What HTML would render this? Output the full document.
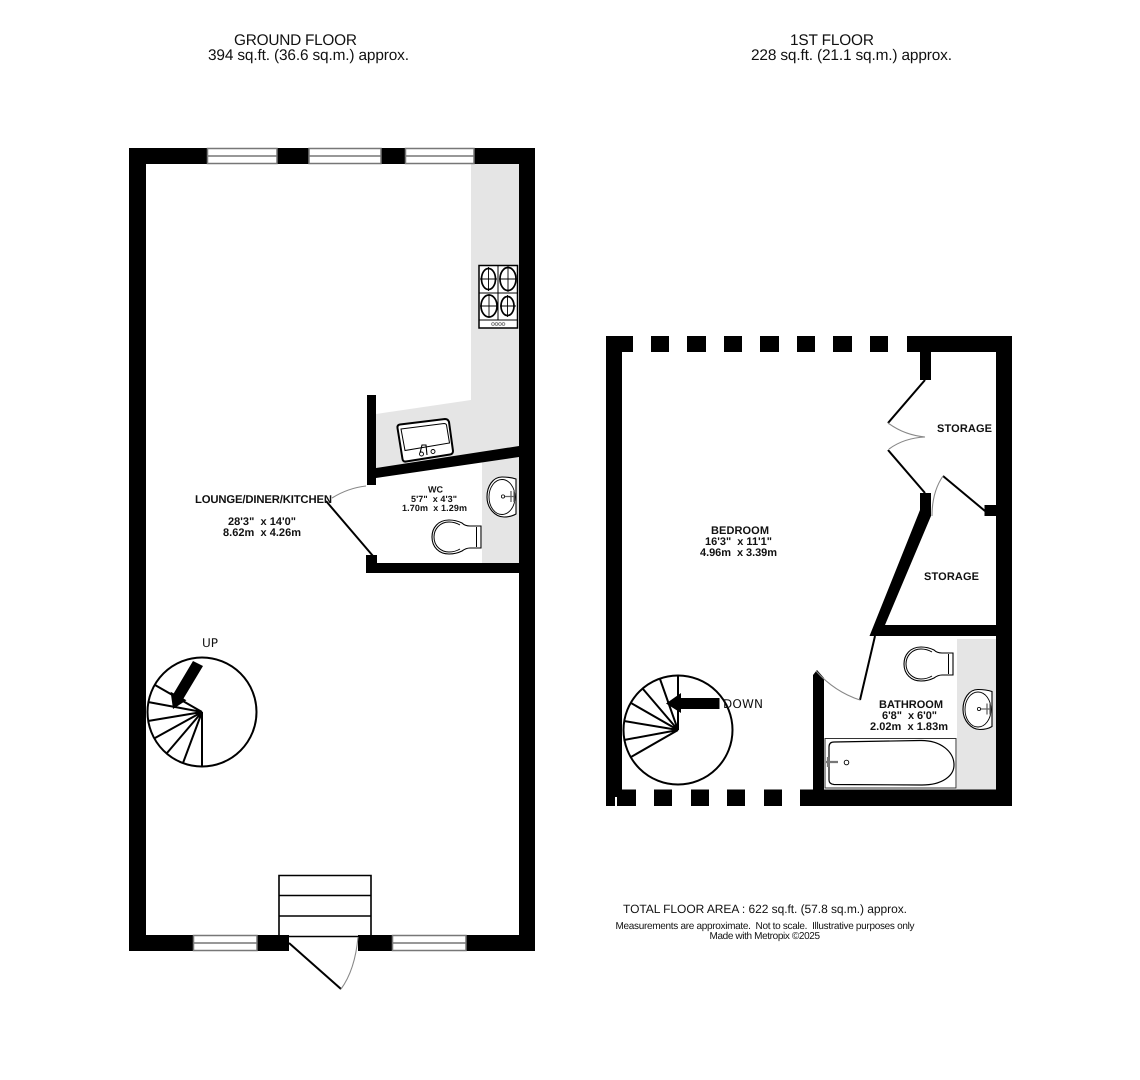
<!DOCTYPE html>
<html><head><meta charset="utf-8"><style>
html,body{margin:0;padding:0;background:#fff}
svg{display:block}
text{font-family:"Liberation Sans",sans-serif;fill:#111;white-space:pre;text-rendering:geometricPrecision}
.b{font-weight:bold}
.d{font-family:"DejaVu Sans",sans-serif;font-size:12px}
.l{fill:none;stroke:#000;stroke-width:2}
.t{fill:none;stroke:#000;stroke-width:1}
.a{fill:none;stroke:#888;stroke-width:1.100}
.w{fill:#fff;stroke:#777;stroke-width:1.500}
</style></head><body>
<svg width="1140" height="1080" viewBox="0 0 1140 1080" xmlns="http://www.w3.org/2000/svg">
<defs>
<g id="toilet">
<path d="M481 526H470Q465 526 462 523Q456 520 449 520C438 520 432 528 432 537C432 547 439 554 449 554Q456 554 462 551Q466 548 470 548H481Z" fill="#fff" stroke="#000" stroke-width="1.100"/>
<path d="M460 525Q455 522 449 522C440 522 434 529 434 537C434 546 441 552 449 552Q455 552 460 549" fill="none" stroke="#000" stroke-width="1"/>
<path d="M476.500 527V547" stroke="#000" stroke-width="1"/>
</g>
<g id="basin">
<path d="M516 479Q510 477 502 477C493 477 487 486 487 497C487 508 495 517 504 517Q511 517 516 514Z" fill="#fff" stroke="#000" stroke-width="1.100"/>
<ellipse cx="502" cy="497" rx="13" ry="17.500" fill="none" stroke="#000" stroke-width=".9"/>
<path d="M505 496.500H514M511 491V502M514 491V502" stroke="#666" stroke-width="1.300"/>
<circle cx="503" cy="496.500" r="1.600" fill="#fff" stroke="#000" stroke-width=".8"/>
</g>
</defs>
<!-- grey counters -->
<path d="M471 164H519V447L376 469V414L471 400Z" fill="#e5e5e5"/>
<path d="M482 456H519V563H482Z" fill="#e5e5e5"/>
<path d="M957 639H996V790H957Z" fill="#e5e5e5"/>

<!-- ground floor walls -->
<g fill="#000">
<rect x="129" y="148" width="17" height="803"/>
<rect x="519" y="148" width="16" height="803"/>
<rect x="129" y="148" width="78" height="16"/>
<rect x="277" y="148" width="32" height="16"/>
<rect x="381" y="148" width="24" height="16"/>
<rect x="474" y="148" width="61" height="16"/>
<rect x="129" y="935" width="64" height="16"/>
<rect x="257" y="935" width="32" height="16"/>
<rect x="358" y="935" width="34" height="16"/>
<rect x="466" y="935" width="69" height="16"/>
<rect x="367" y="395" width="9" height="90"/>
<path d="M376 468L519 446V457L376 478Z"/>
<rect x="366" y="555" width="11" height="10"/>
<rect x="366" y="563" width="153" height="10"/>
</g>
<!-- windows ground -->
<g class="w">
<rect x="207.500" y="148.500" width="69.500" height="15"/>
<rect x="309" y="148.500" width="72" height="15"/>
<rect x="405.500" y="148.500" width="68.500" height="15"/>
<rect x="193.500" y="935.500" width="63.500" height="15"/>
<rect x="392.500" y="935.500" width="73.500" height="15"/>
</g>
<g stroke="#777" stroke-width="1.600">
<path d="M207 156H277M309 156H381M405 156H474M193 943H257M392 943H466"/>
</g>

<!-- hob -->
<rect x="479" y="265.500" width="38.500" height="62.500" fill="#fff" stroke="#000" stroke-width="1.500"/>
<path class="t" d="M479 293H517M479 320H517M498 265V320"/>
<g fill="none" stroke="#000" stroke-width="1.700">
<ellipse cx="488.500" cy="279" rx="7" ry="10.500"/>
<ellipse cx="508" cy="279" rx="8" ry="11.500"/>
<ellipse cx="489" cy="306" rx="8" ry="11"/>
<ellipse cx="507.500" cy="306" rx="6.500" ry="9.500"/>
</g>
<path stroke="#000" stroke-width=".9" d="M480 279H497M488.500 267V291M499 279H517M508 266V292M480 306H498M489 294V318M500 306H516M507.500 295V317"/>
<g fill="none" stroke="#666" stroke-width=".7"><circle cx="493" cy="324" r="1.400"/><circle cx="496.500" cy="324" r="1.400"/><circle cx="500" cy="324" r="1.400"/><circle cx="503.500" cy="324" r="1.400"/></g>

<!-- sink -->
<path d="M397.500 428Q397 425 400 424.500L445 419Q448 419 449 422L453 451Q453 454 450 454.500L406 461.500Q403 462 402.500 459Z" fill="#fff" stroke="#000" stroke-width="2"/>
<path d="M401 429L444 423.500Q446 423.500 446.500 425L449.500 443L405 450.500Z" fill="none" stroke="#000" stroke-width="1"/>
<path d="M420 453L422 445H426L427 455" fill="none" stroke="#000" stroke-width="1.100"/>
<circle cx="421.500" cy="454" r="2" fill="#fff" stroke="#000" stroke-width=".9"/>
<circle cx="433" cy="451.500" r="2" fill="#fff" stroke="#000" stroke-width=".9"/>

<!-- WC fittings -->
<use href="#basin"/>
<use href="#toilet"/>

<!-- WC door -->
<path class="a" d="M332 498Q348 488 366 486"/>
<path class="l" d="M326 501L373 556"/>

<!-- ground stairs -->
<circle cx="202" cy="712" r="54.500" fill="#fff" stroke="#000" stroke-width="2"/>
<path class="l" d="M202 712V767M202 712L183 763M202 712L167 753M202 712L155 738M202 712L148 721M202 712L148 702M202 712L155 685"/>
<path d="M193 661L203 666L183.500 698.500L186.400 700.300L173 709L170.600 691.700L173.700 693.400Z" fill="#000"/>

<!-- entry stairs -->
<path d="M279 936V875.500H371V936M279 895.500H371M279 916H371M279 936.500H358" fill="none" stroke="#000" stroke-width="1.600"/>
<path class="l" d="M289 943L341 989"/>
<path class="a" d="M341 989Q355 970 358 937"/>

<!-- first floor walls -->
<g fill="#000">
<rect x="606" y="336" width="27" height="16"/>
<rect x="651" y="336" width="18" height="16"/>
<rect x="687" y="336" width="19" height="16"/>
<rect x="724" y="336" width="18" height="16"/>
<rect x="760" y="336" width="19" height="16"/>
<rect x="797" y="336" width="18" height="16"/>
<rect x="833" y="336" width="19" height="16"/>
<rect x="870" y="336" width="18" height="16"/>
<rect x="907" y="336" width="105" height="16"/>
<rect x="606" y="336" width="16" height="461"/>
<rect x="606" y="790" width="9" height="16"/>
<rect x="617" y="789.500" width="19" height="16.500"/>
<rect x="654" y="789.500" width="18" height="16.500"/>
<rect x="691" y="789.500" width="18" height="16.500"/>
<rect x="727" y="789.500" width="18" height="16.500"/>
<rect x="764" y="789.500" width="18" height="16.500"/>
<rect x="800" y="789.500" width="212" height="16.500"/>
<rect x="996" y="336" width="16" height="470"/>
<rect x="920" y="352" width="11" height="28"/>
<rect x="920" y="493" width="11" height="23"/>
<path d="M920 510L931 516L885 625H996V636H869.500Z"/>
<rect x="984.500" y="505" width="12" height="11"/>
<path d="M813 675L817 670L824 678V790H813Z"/>
</g>

<!-- storage doors -->
<path class="l" d="M925 380L888 423M888 450L925 493M943 476L985 511"/>
<path class="a" d="M888 423Q904 435 925 437Q904 438 889 449M943 476Q932 492 932 516"/>

<!-- bathroom door -->
<path class="l" d="M875 636L860 700"/>
<path class="a" d="M860 700Q835 692 816 671"/>

<!-- bathroom fittings -->
<use href="#toilet" x="472" y="127"/>
<use href="#basin" x="476" y="212.500"/>

<!-- bath -->
<rect x="825" y="738.500" width="131" height="49.500" fill="#fff" stroke="#333" stroke-width="1"/>
<path d="M829 747Q829 742 834 742L920 740.500C941 740 954 752 954 765C954 776 942 785 922 785L834 784.500Q829 784 829 780Z" fill="none" stroke="#000" stroke-width="1.200"/>
<path d="M826 762H838M828 757V767" stroke="#777" stroke-width="2.200"/>
<circle cx="846.500" cy="762.500" r="2.300" fill="#fff" stroke="#000" stroke-width=".9"/>

<!-- first floor stairs -->
<circle cx="678" cy="730" r="54.500" fill="#fff" stroke="#000" stroke-width="2"/>
<path class="l" d="M678 730V676M678 730L660 679M678 730L643 689M678 730L631 703M678 730L624 721M678 730L624 740M678 730L631 757"/>
<path d="M719.500 698V709H681V713L666 703.500L681 693V698Z" fill="#000"/>

<!-- headings -->
<text x="234" y="45" font-size="15.400" textLength="123">GROUND FLOOR</text>
<text x="208" y="60" font-size="15.400" textLength="201">394 sq.ft. (36.6 sq.m.) approx.</text>
<text x="790" y="45" font-size="15.400" textLength="84">1ST FLOOR</text>
<text x="751" y="60" font-size="15.400" textLength="201">228 sq.ft. (21.1 sq.m.) approx.</text>

<!-- room labels -->
<text class="b" x="195" y="503" font-size="11.300" textLength="137">LOUNGE/DINER/KITCHEN</text>
<text class="b" x="228" y="525" font-size="11" textLength="68">28'3"  x 14'0"</text>
<text class="b" x="223" y="536" font-size="11" textLength="78">8.62m  x 4.26m</text>
<text class="b" x="428" y="492.500" font-size="9" textLength="15">WC</text>
<text class="b" x="411" y="502" font-size="9" textLength="46">5'7"  x 4'3"</text>
<text class="b" x="402" y="511" font-size="9" textLength="65">1.70m  x 1.29m</text>
<text class="b" x="711" y="534" font-size="11" textLength="58">BEDROOM</text>
<text class="b" x="705" y="545" font-size="11" textLength="67">16'3"  x 11'1"</text>
<text class="b" x="700" y="556" font-size="11" textLength="77">4.96m  x 3.39m</text>
<text class="b" x="937" y="432" font-size="11" textLength="55">STORAGE</text>
<text class="b" x="924" y="580" font-size="11" textLength="55">STORAGE</text>
<text class="b" x="879" y="708" font-size="11" textLength="64">BATHROOM</text>
<text class="b" x="882" y="719" font-size="11" textLength="55">6'8"  x 6'0"</text>
<text class="b" x="870" y="730" font-size="11" textLength="78">2.02m  x 1.83m</text>
<text class="d" x="202" y="647" textLength="16">UP</text>
<text class="d" x="723" y="708" textLength="40">DOWN</text>

<!-- footer -->
<text x="623" y="913" font-size="12" textLength="284">TOTAL FLOOR AREA : 622 sq.ft. (57.8 sq.m.) approx.</text>
<text x="615.500" y="929" font-size="10" textLength="299">Measurements are approximate.  Not to scale.  Illustrative purposes only</text>
<text x="709.500" y="939" font-size="10" textLength="110.500">Made with Metropix ©2025</text>
</svg>
</body></html>
